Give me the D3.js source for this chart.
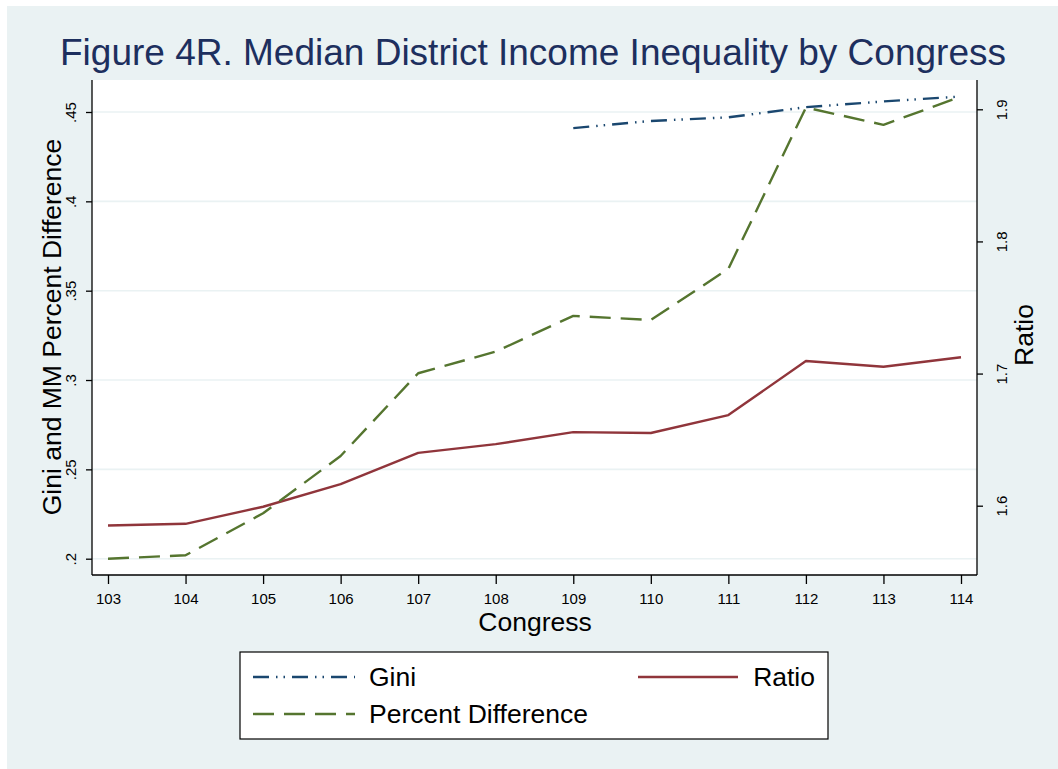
<!DOCTYPE html>
<html>
<head>
<meta charset="utf-8">
<script src="https://cdn.jsdelivr.net/npm/d3@7"></script>
<style>
  html, body { margin: 0; padding: 0; background: #ffffff; }
  svg { display: block; font-family: "Liberation Sans", Arial, Helvetica, sans-serif; }
</style>
</head>
<body>
<svg id="chart" width="1058" height="769"></svg>
<script>
// Congress sessions on the x axis
const congresses = [103, 104, 105, 106, 107, 108, 109, 110, 111, 112, 113, 114];

// Series values (null where the series has no observation)
const giniValues = [null, null, null, null, null, null, 0.441, 0.445, 0.447, 0.4527, 0.4559, 0.4587];
const pctDiffValues = [0.200, 0.2019, 0.2254, 0.2575, 0.3038, 0.3159, 0.3359, 0.3336, 0.3622, 0.4525, 0.4428, 0.4587];
const ratioValues = [1.585, 1.5863, 1.5992, 1.6163, 1.640, 1.6466, 1.6557, 1.655, 1.6686, 1.7095, 1.7052, 1.7123];

// Tick labels
const leftTicks = [0.2, 0.25, 0.3, 0.35, 0.4, 0.45];
const leftTickLabels = [".2", ".25", ".3", ".35", ".4", ".45"];
const rightTicks = [1.6, 1.7, 1.8, 1.9];
const rightTickLabels = ["1.6", "1.7", "1.8", "1.9"];

const svg = d3.select("#chart");
const W = 1058, H = 769;

// Outer graph region
svg.append("rect").attr("x", 7).attr("y", 6).attr("width", W - 7).attr("height", H - 6)
  .attr("fill", "#eaf2f3");

const plot = { left: 92, right: 977, top: 80, bottom: 575 };

// Plot region
svg.append("rect")
  .attr("x", plot.left).attr("y", plot.top)
  .attr("width", plot.right - plot.left).attr("height", plot.bottom - plot.top)
  .attr("fill", "#ffffff");

const x = d3.scaleLinear().domain([103, 114]).range([108, 961]);
const yL = d3.scaleLinear().domain([0.2, 0.45]).range([558.7, 112]);
const yR = d3.scaleLinear().domain([1.6, 1.9]).range([505.7, 109.3]);

// Gridlines at the left-axis ticks
svg.append("g").selectAll("line").data(leftTicks).join("line")
  .attr("x1", plot.left).attr("x2", plot.right)
  .attr("y1", d => yL(d)).attr("y2", d => yL(d))
  .attr("stroke", "#eaf2f3").attr("stroke-width", 1.6);

// Axes
const tickFont = 15;
const leftAxis = d3.axisLeft(yL).tickValues(leftTicks)
  .tickFormat((d, i) => leftTickLabels[i]).tickSize(6).tickPadding(4);
const gL = svg.append("g").attr("transform", `translate(${plot.left},0)`).call(leftAxis);
gL.select(".domain").attr("d", `M0,${plot.top}V${plot.bottom}`);

const rightAxis = d3.axisRight(yR).tickValues(rightTicks)
  .tickFormat((d, i) => rightTickLabels[i]).tickSize(6).tickPadding(4);
const gR = svg.append("g").attr("transform", `translate(${plot.right},0)`).call(rightAxis);
gR.select(".domain").attr("d", `M0,${plot.top}V${plot.bottom}`);

const bottomAxis = d3.axisBottom(x).tickValues(congresses).tickFormat(d3.format("d"))
  .tickSize(9).tickPadding(9);
const gB = svg.append("g").attr("transform", `translate(0,${plot.bottom})`).call(bottomAxis);
gB.select(".domain").attr("d", `M${plot.left},0H${plot.right}`);

[gL, gR, gB].forEach(g => {
  g.selectAll(".domain").attr("stroke", "#000").attr("stroke-width", 1.3).attr("fill", "none");
  g.selectAll(".tick line").attr("stroke", "#000").attr("stroke-width", 1.3);
  g.selectAll(".tick text").attr("font-size", tickFont).attr("fill", "#000")
    .attr("font-family", "Liberation Sans, Arial, sans-serif");
});

// Rotated vertical tick labels
gL.selectAll(".tick text")
  .attr("x", null).attr("dy", null)
  .attr("text-anchor", "middle")
  .attr("transform", "translate(-16,0) rotate(-90)")
  .attr("dy", "0em");
gR.selectAll(".tick text")
  .attr("x", null).attr("dy", null)
  .attr("text-anchor", "middle")
  .attr("transform", "translate(30,0) rotate(-90)")
  .attr("dy", "0em");

// Lines
const lineL = d3.line().defined(d => d.v != null).x(d => x(d.c)).y(d => yL(d.v));
const lineR = d3.line().x(d => x(d.c)).y(d => yR(d.v));
const zip = vals => congresses.map((c, i) => ({ c, v: vals[i] }));

const series = [
  { name: "Ratio", data: zip(ratioValues), gen: lineR, color: "#90353b", dash: null },
  { name: "Percent Difference", data: zip(pctDiffValues), gen: lineL, color: "#55752f", dash: "21,10" },
  { name: "Gini", data: zip(giniValues), gen: lineL, color: "#1a476f", dash: "16,7,1.5,6,1.5,7" }
];

series.forEach(s => {
  svg.append("path")
    .attr("d", s.gen(s.data))
    .attr("fill", "none")
    .attr("stroke", s.color)
    .attr("stroke-width", 2.4)
    .attr("stroke-linejoin", "round")
    .attr("stroke-dasharray", s.dash);
});

// Title
svg.append("text")
  .attr("x", 533).attr("y", 65)
  .attr("text-anchor", "middle")
  .attr("font-size", 37)
  .attr("fill", "#1d2f5e")
  .text("Figure 4R. Median District Income Inequality by Congress");

// Axis titles
svg.append("text")
  .attr("x", 535).attr("y", 631)
  .attr("text-anchor", "middle")
  .attr("font-size", 26.5)
  .attr("fill", "#000")
  .text("Congress");

svg.append("text")
  .attr("transform", "translate(61,327) rotate(-90)")
  .attr("text-anchor", "middle")
  .attr("font-size", 26.5)
  .attr("fill", "#000")
  .text("Gini and MM Percent Difference");

svg.append("text")
  .attr("transform", "translate(1033,335) rotate(-90)")
  .attr("text-anchor", "middle")
  .attr("font-size", 26.5)
  .attr("fill", "#000")
  .text("Ratio");

// Legend
const legend = svg.append("g");
legend.append("rect")
  .attr("x", 240).attr("y", 652).attr("width", 588).attr("height", 87)
  .attr("fill", "#ffffff").attr("stroke", "#000").attr("stroke-width", 1.2);

const legendItems = [
  { s: series[2], x1: 253, x2: 355, y: 677, tx: 369, anchor: "start" },
  { s: series[0], x1: 638, x2: 738, y: 677, tx: 815, anchor: "end" },
  { s: series[1], x1: 253, x2: 355, y: 714, tx: 369, anchor: "start" }
];
legendItems.forEach(it => {
  legend.append("line")
    .attr("x1", it.x1).attr("x2", it.x2).attr("y1", it.y).attr("y2", it.y)
    .attr("stroke", it.s.color).attr("stroke-width", 2.4)
    .attr("stroke-dasharray", it.s.dash);
  legend.append("text")
    .attr("x", it.tx).attr("y", it.y + 9)
    .attr("text-anchor", it.anchor)
    .attr("font-size", 26.5)
    .attr("fill", "#000")
    .text(it.s.name);
});
</script>
</body>
</html>
